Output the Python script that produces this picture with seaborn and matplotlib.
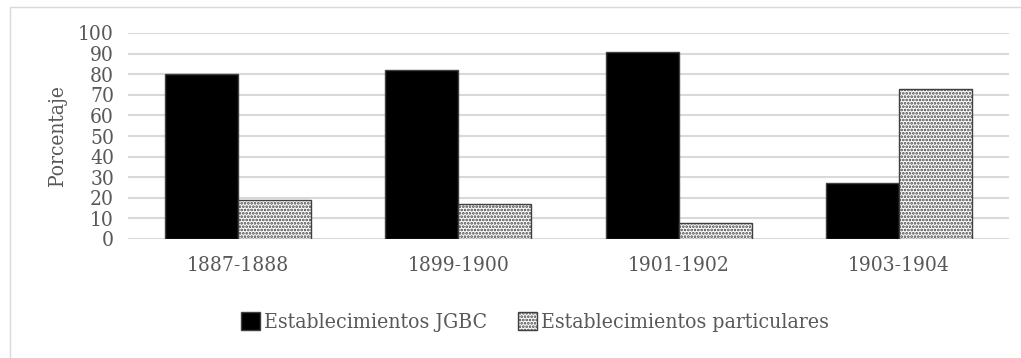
import matplotlib
matplotlib.use("Agg")
import matplotlib.pyplot as plt
from matplotlib.patches import Rectangle, Patch
import seaborn as sns
import pandas as pd

periodos = ["1887-1888", "1899-1900", "1901-1902", "1903-1904"]
jgbc = [80, 82, 91, 27]
particulares = [19, 17, 8, 73]
series = ["Establecimientos JGBC", "Establecimientos particulares"]

df = pd.DataFrame({
    "Periodo": periodos * 2,
    "Porcentaje": jgbc + particulares,
    "Serie": [series[0]] * len(periodos) + [series[1]] * len(periodos),
})

sns.set_theme(style="white")
plt.rcParams["font.family"] = ["DejaVu Serif"]
plt.rcParams["font.stretch"] = "condensed"
plt.rcParams["hatch.linewidth"] = 1.3
plt.rcParams["hatch.color"] = "#000000"
text_color = "#595959"

fig = plt.figure(figsize=(10.21, 3.58), dpi=100)
ax = fig.add_axes([128 / 1021, 119 / 358, 881 / 1021, 206 / 358])

sns.barplot(data=df, x="Periodo", y="Porcentaje", hue="Serie",
            palette=["#000000", "#ffffff"], width=0.664, gap=0,
            edgecolor="#404040", linewidth=1.0, legend=False, ax=ax, zorder=3)

n = len(periodos)
for i, bar in enumerate(ax.patches[:2 * n]):
    if i >= n:
        bar.set_hatch(".....")
        bar.set_facecolor("#ffffff")

ax.set_ylim(0, 100)
ax.set_xlim(-0.5, n - 0.5)
ax.set_yticks(range(0, 101, 10))
ax.yaxis.grid(True, color="#d9d9d9", linewidth=1.5, zorder=0)
ax.set_axisbelow(True)
for s in ax.spines.values():
    s.set_visible(False)
ax.tick_params(axis="both", length=0, colors=text_color, labelsize=15)
ax.tick_params(axis="y", pad=10)
ax.tick_params(axis="x", pad=12)
ax.set_xlabel("")
ax.set_ylabel("Porcentaje", color=text_color, fontsize=15, labelpad=8)

handles = [
    Patch(facecolor="#000000", edgecolor="#404040", label=series[0]),
    Patch(facecolor="#ffffff", edgecolor="#404040", hatch=".....", label=series[1]),
]
fig.legend(handles=handles, loc="center", bbox_to_anchor=(535 / 1021, 1 - 322 / 358),
           ncol=2, frameon=False, fontsize=15.2, labelcolor=text_color,
           handlelength=0.9, handleheight=0.9, handletextpad=0.15, columnspacing=1.5)

# chart frame
fig.patches.append(Rectangle((10 / 1021, -0.01), 1.05, 1 - 7 / 358 + 0.01,
                             transform=fig.transFigure, fill=False,
                             edgecolor="#d9d9d9", linewidth=1.0))

fig.savefig("out.png", dpi=100, facecolor="white")
